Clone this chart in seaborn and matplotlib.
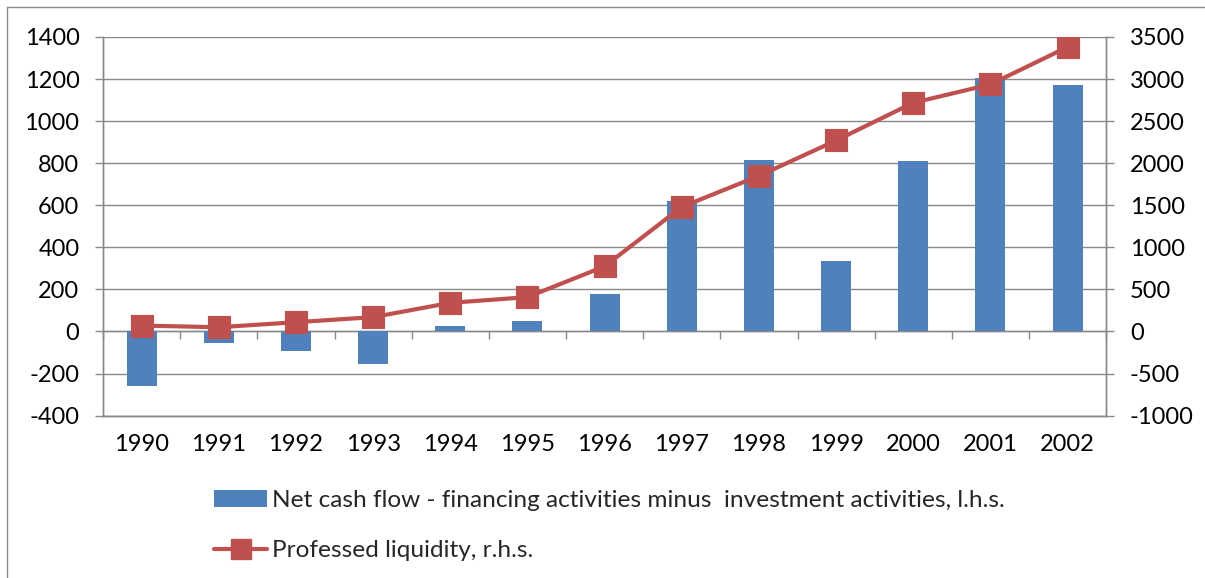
import numpy as np
import pandas as pd
import seaborn as sns
import matplotlib
matplotlib.use('Agg')
import matplotlib.pyplot as plt
from matplotlib.patches import Patch
from matplotlib.lines import Line2D

# values
years = ['1990', '1991', '1992', '1993', '1994', '1995', '1996',
         '1997', '1998', '1999', '2000', '2001', '2002']
net_cash_flow = [-257, -56, -94, -157, 25, 52, 180, 619, 813, 335, 810, 1207, 1170]
liquidity = [70, 50, 110, 170, 340, 408, 774, 1480, 1849, 2270, 2718, 2937, 3381]
left_ticks = [-400, -200, 0, 200, 400, 600, 800, 1000, 1200, 1400]
right_ticks = [-1000, -500, 0, 500, 1000, 1500, 2000, 2500, 3000, 3500]

bar_label = 'Net cash flow - financing activities minus  investment activities, l.h.s.'
line_label = 'Professed liquidity, r.h.s.'

blue = '#4F81BD'
red = '#C0504D'
grey = '#898989'

sns.set_theme(style='white')
plt.rcParams['font.family'] = ['Lato', 'DejaVu Sans']
plt.rcParams['axes.unicode_minus'] = False

df = pd.DataFrame({'year': years, 'net': net_cash_flow, 'liq': liquidity})

fig = plt.figure(figsize=(12.05, 5.78), dpi=100)
ax = fig.add_axes([0.0855, 0.281, 0.8325, 0.655])

sns.barplot(data=df, x='year', y='net', color=blue, saturation=1,
            width=0.39, ax=ax, zorder=2, linewidth=0, edgecolor='none')
ax.set_ylim(left_ticks[0], left_ticks[-1])
ax.set_yticks(left_ticks)
ax.yaxis.grid(True, color=grey, linewidth=1.0, zorder=0)
ax.set_axisbelow(True)
ax.set_xlabel('')
ax.set_ylabel('')

ax2 = ax.twinx()
sns.pointplot(data=df, x='year', y='liq', color=red, markers='s',
              errorbar=None, ax=ax2, markersize=14, linewidth=3)
ax2.set_ylim(right_ticks[0], right_ticks[-1])
ax2.set_yticks(right_ticks)
ax2.set_xlabel('')
ax2.set_ylabel('')
ax.set_xlim(-0.5, len(years) - 0.5)

for a in (ax, ax2):
    for s in a.spines.values():
        s.set_color(grey)
        s.set_linewidth(1.0)
    a.spines['top'].set_visible(False)
    a.tick_params(axis='y', labelsize=17, length=6, width=1.0,
                  color=grey, pad=11, labelcolor='black')
ax.tick_params(axis='y', left=True, right=False)
ax2.tick_params(axis='y', right=True, left=False)
ax.tick_params(axis='x', length=0, labelsize=17, pad=13, labelcolor='black')

# category axis drawn at zero with ticks between categories
zero_axis = ax.secondary_xaxis(0, transform=ax.transData)
zero_axis.set_xticks(np.arange(len(years) + 1) - 0.5)
zero_axis.tick_params(axis='x', length=6, width=1.0, color=grey,
                      labelbottom=False, direction='out')
zero_axis.spines['bottom'].set_color(grey)
zero_axis.spines['bottom'].set_linewidth(1.0)

handles = [Patch(facecolor=blue, edgecolor='none'),
           Line2D([], [], color=red, linewidth=3, marker='s', markersize=14)]
fig.legend(handles, [bar_label, line_label], loc='upper left',
           bbox_to_anchor=(0.178, 0.153), frameon=False, fontsize=17.6,
           handlelength=2.15, handleheight=0.7, handletextpad=0.2,
           labelspacing=1.2, borderpad=0, borderaxespad=0)

# outer frame of the chart
fig.add_artist(Line2D([7 / 1205, 7 / 1205], [0, 1 - 7 / 578], color=grey,
                      linewidth=1.0, transform=fig.transFigure))
fig.add_artist(Line2D([7 / 1205, 1], [1 - 7 / 578, 1 - 7 / 578], color=grey,
                      linewidth=1.0, transform=fig.transFigure))

fig.savefig('out.png', dpi=100)
